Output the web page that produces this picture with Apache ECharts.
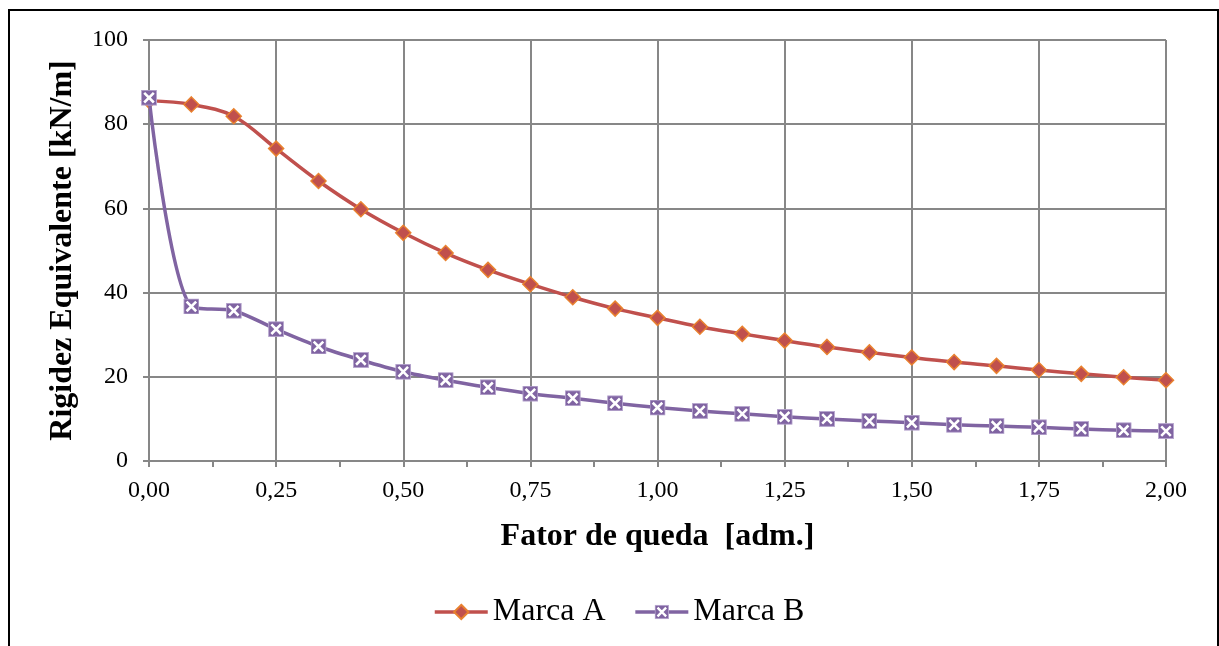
<!DOCTYPE html>
<html>
<head>
<meta charset="utf-8">
<script src="https://cdn.jsdelivr.net/npm/echarts@6/dist/echarts.min.js"></script>
<style>
  html, body { margin: 0; padding: 0; background: #fff; overflow: hidden; }
  #chart { position: absolute; left: 0; top: 0; width: 1219px; height: 646px; }
  #frame { position: absolute; left: 8px; top: 9px; width: 1207px; height: 700px;
           border: 2px solid #000; pointer-events: none; }
</style>
</head>
<body>
<div id="chart"></div>
<div id="frame"></div>
<script>
// Drop factor samples (every 1/12 from 0 to 2)
const fatorQueda = Array.from({ length: 25 }, (_, i) => i / 12);

// Equivalent stiffness [kN/m]
const marcaA = [85.6, 84.7, 81.9, 74.2, 66.5, 59.8, 54.2, 49.4, 45.4, 42.0, 38.9, 36.2, 34.0,
                31.9, 30.2, 28.6, 27.1, 25.8, 24.6, 23.5, 22.6, 21.6, 20.7, 19.9, 19.2];
const marcaB = [86.3, 36.7, 35.7, 31.3, 27.2, 24.0, 21.2, 19.2, 17.5, 16.0, 14.9, 13.7, 12.7,
                11.9, 11.2, 10.5, 10.0, 9.5, 9.1, 8.6, 8.3, 8.0, 7.6, 7.3, 7.1];

const serieNames = ['Marca A', 'Marca B'];
const xTitle = 'Fator de queda  [adm.]';
const yTitle = 'Rigidez Equivalente [kN/m]';

// Square marker with a white cross
const crossSquareSvg =
  '<svg xmlns="http://www.w3.org/2000/svg" width="16" height="16" viewBox="0 0 16 16">' +
  '<rect x="0.5" y="0.5" width="15" height="15" fill="#8064A2" stroke="#B9A8D0" stroke-width="1"/>' +
  '<path d="M3.2 3.2 L12.8 12.8 M12.8 3.2 L3.2 12.8" stroke="#fff" stroke-width="2.6"/>' +
  '</svg>';
const crossSquare = 'image://data:image/svg+xml;charset=utf-8,' + encodeURIComponent(crossSquareSvg);

const pairs = (ys) => fatorQueda.map((x, i) => [x, ys[i]]);
const serif = '"Liberation Serif", "Times New Roman", serif';
const gridGray = '#878787';

const chart = echarts.init(document.getElementById('chart'), null, { renderer: 'canvas' });
chart.setOption({
  animation: false,
  backgroundColor: '#fff',
  textStyle: { fontFamily: serif, color: '#000' },
  grid: { left: 149, right: 53, top: 40, bottom: 185, containLabel: false },
  xAxis: {
    type: 'value', min: 0, max: 2, interval: 0.25,
    name: xTitle, nameLocation: 'middle', nameGap: 60,
    nameTextStyle: { fontFamily: serif, fontSize: 32, fontWeight: 'bold', color: '#000' },
    axisLine: { show: true, lineStyle: { color: gridGray, width: 2 } },
    axisTick: { show: true, length: 6, lineStyle: { color: gridGray, width: 2 } },
    minorTick: { show: true, splitNumber: 2, length: 6, lineStyle: { color: gridGray, width: 2 } },
    splitLine: { show: true, lineStyle: { color: gridGray, width: 2 } },
    axisLabel: { fontFamily: serif, fontSize: 24, color: '#000', margin: 18,
                 formatter: (v) => v.toFixed(2).replace('.', ',') }
  },
  yAxis: {
    type: 'value', min: 0, max: 100, interval: 20,
    name: yTitle, nameLocation: 'middle', nameGap: 70, nameRotate: 90,
    nameTextStyle: { fontFamily: serif, fontSize: 32, fontWeight: 'bold', color: '#000' },
    axisLine: { show: true, lineStyle: { color: gridGray, width: 2 } },
    axisTick: { show: true, length: 6, lineStyle: { color: gridGray, width: 2 } },
    splitLine: { show: true, lineStyle: { color: gridGray, width: 2 } },
    axisLabel: { fontFamily: serif, fontSize: 24, color: '#000', margin: 21 }
  },
  legend: {
    top: 591, left: 428, itemWidth: 53, itemHeight: 18, itemGap: 28,
    lineStyle: { width: 3.5 },
    textStyle: { fontFamily: serif, fontSize: 32, color: '#000' },
    data: serieNames
  },
  series: [
    {
      name: serieNames[0], type: 'line', smooth: 0.35, data: pairs(marcaA),
      symbol: 'diamond', symbolSize: 15,
      lineStyle: { color: '#C0504D', width: 3.5 },
      itemStyle: { color: '#C0504D', borderColor: '#E8812F', borderWidth: 1.5 },
      z: 2
    },
    {
      name: serieNames[1], type: 'line', smooth: 0.3, data: pairs(marcaB),
      symbol: crossSquare, symbolSize: 16,
      lineStyle: { color: '#8064A2', width: 3.5 },
      itemStyle: { color: '#8064A2' },
      z: 3
    }
  ]
});
</script>
</body>
</html>
